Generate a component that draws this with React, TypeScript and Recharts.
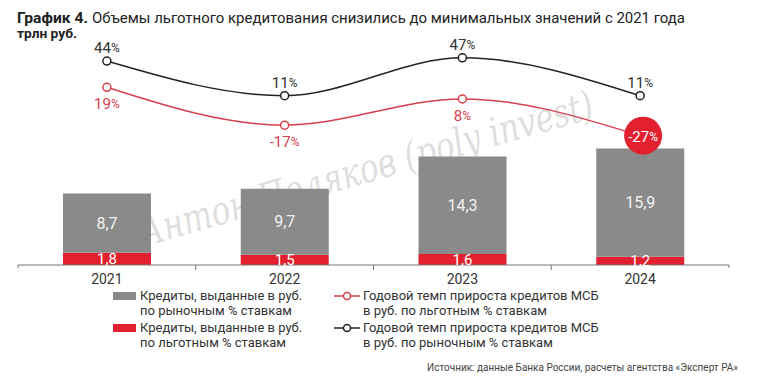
import React from 'react';
import { ComposedChart, Bar, Line, XAxis, YAxis, LabelList } from 'recharts';

const years = ['2021', '2022', '2023', '2024'];
const marketLoans = [8.7, 9.7, 14.3, 15.9];
const preferentialLoans = [1.8, 1.5, 1.6, 1.2];
const preferentialGrowth = [19, -17, 8, -27];
const marketGrowth = [44, 11, 47, 11];

const data = years.map((year, i) => ({
  year,
  market: marketLoans[i],
  preferential: preferentialLoans[i],
  prefGrowth: preferentialGrowth[i],
  marketGrowth: marketGrowth[i],
}));

const GRAY = '#8a8a8a';
const RED = '#e2202f';
const RED_LINE = '#d6404c';
const DARK = '#222';
const FONT = 'Roboto, "Noto Sans", sans-serif';

const PLOT_LEFT = 18;
const PLOT_RIGHT = 729;
const BAND = (PLOT_RIGHT - PLOT_LEFT) / years.length;

const fmt = (v: number) => String(v).replace('.', ',');

const BarValue = (color: string, size: number) => (props: any) => {
  const { x, y, width, height, value } = props;
  return (
    <text
      x={x + width / 2}
      y={y + height / 2}
      textAnchor="middle"
      dominantBaseline="central"
      fill={color}
      fontSize={size}
      fontFamily={FONT}
    >
      {fmt(value)}
    </text>
  );
};

const Pct = ({ value }: { value: number }) => (
  <>
    {value}
    <tspan fontSize={12}>%</tspan>
  </>
);

const MarketLabel = (props: any) => {
  const { x, y, value } = props;
  return (
    <text x={x} y={y - 13} textAnchor="middle" dominantBaseline="central" fill="#333" fontSize={15} fontFamily={FONT}>
      <Pct value={value} />
    </text>
  );
};

const PrefLabel = (props: any) => {
  const { x, y, value, index } = props;
  if (index === years.length - 1) {
    return (
      <g>
        <circle cx={x + 3} cy={y} r={19} fill={RED} />
        <text x={x + 3} y={y + 1} textAnchor="middle" dominantBaseline="central" fill="#fff" fontSize={15} fontFamily={FONT}>
          <Pct value={value} />
        </text>
      </g>
    );
  }
  return (
    <text x={x} y={y + 17} textAnchor="middle" dominantBaseline="central" fill={RED_LINE} fontSize={15} fontFamily={FONT}>
      <Pct value={value} />
    </text>
  );
};

const YearTick = (props: any) => {
  const { x, y, payload, index } = props;
  const last = index === years.length - 1;
  return (
    <g>
      <line x1={x - BAND / 2} x2={x - BAND / 2} y1={y - 8} y2={y - (index === 0 ? 5 : 3)} stroke="#777" />
      {last && <line x1={x + BAND / 2} x2={x + BAND / 2} y1={y - 8} y2={y - 5} stroke="#777" />}
      <text x={x} y={y + 6} textAnchor="middle" dominantBaseline="central" fill="#333" fontSize={14} fontFamily={FONT}>
        {payload.value}
      </text>
    </g>
  );
};

const legendText: React.CSSProperties = {
  position: 'absolute',
  fontFamily: FONT,
  fontSize: 13,
  lineHeight: '15px',
  color: '#333',
  whiteSpace: 'nowrap',
};

const LineSwatch = ({ color, left, top }: { color: string; left: number; top: number }) => (
  <svg style={{ position: 'absolute', left, top }} width={26} height={10}>
    <line x1={0} x2={26} y1={5} y2={5} stroke={color} strokeWidth={1.5} />
    <circle cx={13} cy={5} r={3.5} fill="#fff" stroke={color} strokeWidth={1.5} />
  </svg>
);

export default function App() {
  return (
    <div style={{ position: 'absolute', left: 0, top: 0, width: 758, height: 378, background: '#fff', overflow: 'hidden' }}>
      <svg style={{ position: 'absolute', left: 0, top: 0 }} width={758} height={50}>
        <text x={17} y={23} fontFamily={FONT} fontSize={15} fontWeight="bold" fill="#222" textLength={71} lengthAdjust="spacingAndGlyphs">
          График 4.
        </text>
        <text x={92} y={23} fontFamily={FONT} fontSize={15} fill="#222" textLength={593} lengthAdjust="spacingAndGlyphs">
          Объемы льготного кредитования снизились до минимальных значений с 2021 года
        </text>
        <text x={17} y={38} fontFamily={FONT} fontSize={12} fontWeight="bold" fill="#222" textLength={60} lengthAdjust="spacingAndGlyphs">
          трлн руб.
        </text>
      </svg>

      <div style={{ position: 'absolute', left: 0, top: 0 }}>
        <ComposedChart
          width={758}
          height={292}
          data={data}
          margin={{ top: 40, right: 758 - PLOT_RIGHT, bottom: 0, left: PLOT_LEFT }}
        >
          <XAxis
            dataKey="year"
            axisLine={{ stroke: '#777' }}
            tickLine={false}
            tick={<YearTick />}
            height={27}
            interval={0}
          />
          <YAxis yAxisId="bars" hide domain={[0, 33]} />
          <YAxis yAxisId="lines" orientation="right" hide domain={[-150, 64]} />
          <Bar yAxisId="bars" dataKey="preferential" stackId="a" fill={RED} barSize={88} isAnimationActive={false}>
            <LabelList dataKey="preferential" content={BarValue('#fff', 15)} />
          </Bar>
          <Bar yAxisId="bars" dataKey="market" stackId="a" fill={GRAY} barSize={88} isAnimationActive={false}>
            <LabelList dataKey="market" content={BarValue('#f2f2f2', 16)} />
          </Bar>
          <Line
            yAxisId="lines"
            dataKey="marketGrowth"
            type="monotone"
            stroke={DARK}
            strokeWidth={1.5}
            dot={{ r: 4, fill: '#fff', stroke: DARK, strokeWidth: 1.5 }}
            isAnimationActive={false}
          >
            <LabelList dataKey="marketGrowth" content={MarketLabel} />
          </Line>
          <Line
            yAxisId="lines"
            dataKey="prefGrowth"
            type="monotone"
            stroke={RED_LINE}
            strokeWidth={1.5}
            dot={{ r: 4, fill: '#fff', stroke: RED_LINE, strokeWidth: 1.5 }}
            isAnimationActive={false}
          >
            <LabelList dataKey="prefGrowth" content={PrefLabel} />
          </Line>
        </ComposedChart>
      </div>

      <svg style={{ position: 'absolute', left: 0, top: 0, pointerEvents: 'none' }} width={758} height={378}>
        <text
          x={370}
          y={182}
          textAnchor="middle"
          transform="rotate(-16 370 182)"
          fontFamily='"DejaVu Serif", serif'
          fontStyle="italic"
          fontSize={40}
          fill="rgba(140,140,140,0.3)"
          textLength={470}
          lengthAdjust="spacingAndGlyphs"
        >
          Антон Поляков (poly invest)
        </text>
      </svg>

      <div style={{ position: 'absolute', left: 113, top: 292, width: 23, height: 8, background: GRAY }} />
      <div style={{ ...legendText, left: 140, top: 288 }}>
        Кредиты, выданные в руб.
        <br />
        по рыночным % ставкам
      </div>
      <div style={{ position: 'absolute', left: 113, top: 324, width: 23, height: 8, background: RED }} />
      <div style={{ ...legendText, left: 140, top: 320 }}>
        Кредиты, выданные в руб.
        <br />
        по льготным % ставкам
      </div>

      <LineSwatch color={RED_LINE} left={334} top={291} />
      <div style={{ ...legendText, left: 363, top: 288 }}>
        Годовой темп прироста кредитов МСБ
        <br />
        в руб. по льготным % ставкам
      </div>
      <LineSwatch color={DARK} left={334} top={323} />
      <div style={{ ...legendText, left: 363, top: 320 }}>
        Годовой темп прироста кредитов МСБ
        <br />
        в руб. по рыночным % ставкам
      </div>

      <div style={{ ...legendText, fontSize: 10, color: '#444', right: 20, top: 360 }}>
        Источник: данные Банка России, расчеты агентства «Эксперт РА»
      </div>
    </div>
  );
}
